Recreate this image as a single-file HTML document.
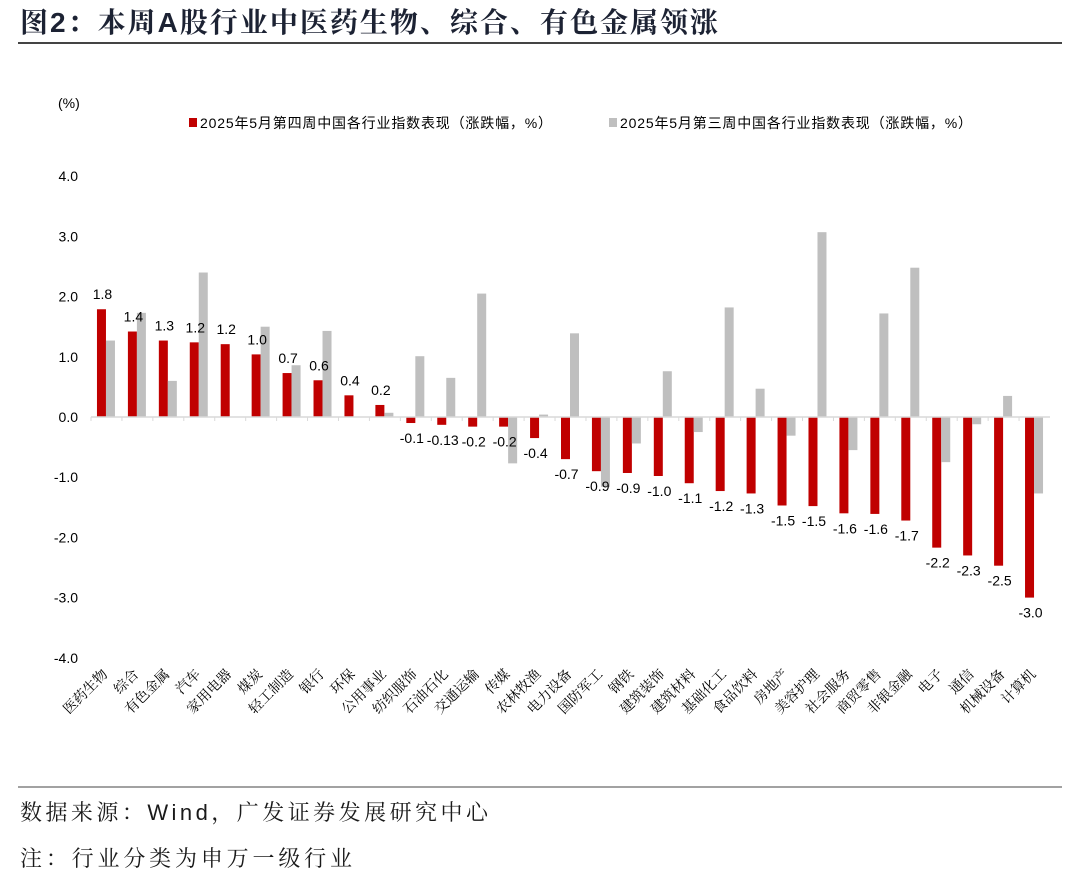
<!DOCTYPE html>
<html><head><meta charset="utf-8"><style>
body{margin:0;background:#fff;width:1080px;height:883px;overflow:hidden;font-family:"Liberation Sans","Noto Sans CJK SC",sans-serif}
</style></head><body>
<svg id="chart" width="1080" height="883" xmlns="http://www.w3.org/2000/svg">
<text x="20" y="32" font-size="28" font-weight="bold" fill="#1c2233" textLength="698" lengthAdjust="spacing" font-family="Liberation Sans,Noto Serif CJK SC,serif">图2：本周A股行业中医药生物、综合、有色金属领涨</text>
<line x1="18" y1="43" x2="1062" y2="43" stroke="#444" stroke-width="2"/>
<text x="58" y="108" font-size="14" fill="#000">(%)</text>
<rect x="189" y="118" width="8" height="9" fill="#c00000"/>
<text x="200" y="128" font-size="14" fill="#000" textLength="352" lengthAdjust="spacing">2025年5月第四周中国各行业指数表现（涨跌幅，%）</text>
<rect x="609" y="118" width="8" height="9" fill="#bfbfbf"/>
<text x="620" y="128" font-size="14" fill="#000" textLength="352" lengthAdjust="spacing">2025年5月第三周中国各行业指数表现（涨跌幅，%）</text>
<g id="plot"></g>
<line x1="18" y1="787" x2="1062" y2="787" stroke="#444" stroke-width="1"/>
<text x="20" y="820" font-size="22" fill="#1a1a1a" textLength="468" lengthAdjust="spacing" font-family="Liberation Sans,Noto Serif CJK SC,serif">数据来源：Wind，广发证券发展研究中心</text>
<text x="20" y="866" font-size="22" fill="#1a1a1a" textLength="332" lengthAdjust="spacing" font-family="Liberation Sans,Noto Serif CJK SC,serif">注：行业分类为申万一级行业</text>
</svg>
<script>
const categories=["医药生物","综合","有色金属","汽车","家用电器","煤炭","轻工制造","银行","环保","公用事业","纺织服饰","石油石化","交通运输","传媒","农林牧渔","电力设备","国防军工","钢铁","建筑装饰","建筑材料","基础化工","食品饮料","房地产","美容护理","社会服务","商贸零售","非银金融","电子","通信","机械设备","计算机"];
const week4=[1.79,1.42,1.27,1.24,1.21,1.04,0.73,0.61,0.36,0.2,-0.1,-0.13,-0.16,-0.16,-0.35,-0.7,-0.9,-0.93,-0.98,-1.1,-1.23,-1.27,-1.47,-1.48,-1.6,-1.61,-1.72,-2.17,-2.3,-2.47,-3.0];
const week4Labels=["1.8","1.4","1.3","1.2","1.2","1.0","0.7","0.6","0.4","0.2","-0.1","-0.13","-0.2","-0.2","-0.4","-0.7","-0.9","-0.9","-1.0","-1.1","-1.2","-1.3","-1.5","-1.5","-1.6","-1.6","-1.7","-2.2","-2.3","-2.5","-3.0"];
const week3=[1.27,1.73,0.60,2.40,0,1.50,0.86,1.43,0,0.07,1.01,0.65,2.05,-0.77,0.04,1.39,-1.16,-0.44,0.76,-0.25,1.82,0.47,-0.31,3.07,-0.55,1.72,2.48,-0.75,-0.12,0.35,-1.27];
const yTicks=[4,3,2,1,0,-1,-2,-3,-4];
const NS="http://www.w3.org/2000/svg";
const g=document.getElementById('plot');
const x0=91,x1=1050,yZero=417,pxPer=60.2;
const band=(x1-x0)/categories.length;
function y(v){return yZero-v*pxPer;}
function cx(i){return x0+band*(i+0.5);}
function mk(tag,attrs){const e=document.createElementNS(NS,tag);for(const k in attrs)e.setAttribute(k,attrs[k]);g.appendChild(e);return e;}
yTicks.forEach(t=>{
  const e=mk('text',{x:78,y:y(t)+5,'text-anchor':'end','font-size':14,fill:'#000'});
  e.textContent=t.toFixed(1);
  
  
});
categories.forEach((c,i)=>{
  const c0=cx(i);
  const v=week4[i];
  const r=mk('rect',{x:c0-9.5,y:Math.min(y(v),yZero),width:9,height:Math.abs(y(v)-yZero),fill:'#c00000'});
  
  
  const w=week3[i];
  const b=mk('rect',{x:c0-0.5,y:Math.min(y(w),yZero),width:9,height:Math.abs(y(w)-yZero),fill:'#bfbfbf'});
  
  
  const ly=v>=0?y(v)-10:y(v)+20;
  const l=mk('text',{x:c0-4,y:ly,'text-anchor':'middle','font-size':14,fill:'#000'});
  l.textContent=week4Labels[i];
  
  
  const t=mk('text',{x:c0+2,y:675,'text-anchor':'end','font-size':14,fill:'#000','font-family':'Noto Serif CJK SC,serif',transform:`rotate(-45 ${c0+2} 675)`});
  t.textContent=c;
  
  
  const tk=mk('line',{x1:x0+band*i,y1:yZero,x2:x0+band*i,y2:yZero+4,stroke:'#d9d9d9'});
  
  
});
const ax=mk('line',{x1:x0,y1:yZero,x2:x1,y2:yZero,stroke:'#d9d9d9','stroke-width':1.5});


</script>
</body></html>
